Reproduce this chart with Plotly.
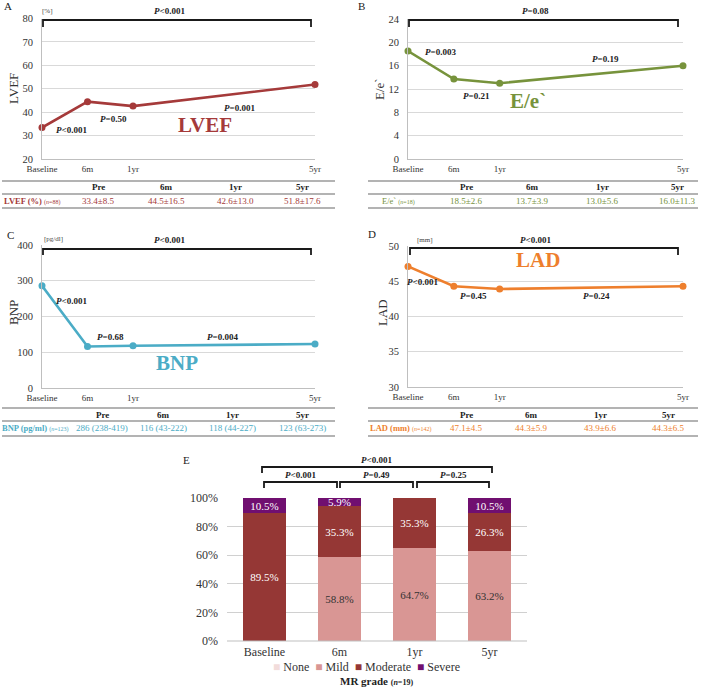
import plotly.graph_objects as go

W, H = 709, 700
SERIF = "Liberation Serif, Times New Roman, serif"

# ---------------- data ----------------
visits = ["Baseline", "6m", "1yr", "5yr"]
axis_cats = ["Baseline", "6m", "1yr", " ", "  ", "   ", "5yr"]

lvef = [33.4, 44.5, 42.6, 51.8]
ee = [18.5, 13.7, 13.0, 16.0]
bnp = [286, 116, 118, 123]
lad = [47.1, 44.3, 43.9, 44.3]

table_cols = ["Pre", "6m", "1yr", "5yr"]
lvef_tab = ["33.4±8.5", "44.5±16.5", "42.6±13.0", "51.8±17.6"]
ee_tab = ["18.5±2.6", "13.7±3.9", "13.0±5.6", "16.0±11.3"]
bnp_tab = ["286 (238-419)", "116 (43-222)", "118 (44-227)", "123 (63-273)"]
lad_tab = ["47.1±4.5", "44.3±5.9", "43.9±6.6", "44.3±6.5"]

mr_visits = ["Baseline", "6m", "1yr", "5yr"]
mr_grades = ["None", "Mild", "Moderate", "Severe"]
mr_none = [0, 0, 0, 0]
mr_mild = [0, 58.8, 64.7, 63.2]
mr_moderate = [89.5, 35.3, 35.3, 26.3]
mr_severe = [10.5, 5.9, 0, 10.5]


def px(x):
    return x / W


def py(y):
    return 1 - y / H


fig = go.Figure()
shapes = []
annos = []


def txt(x, y, text, size=9, color="#222", xanchor="center", yanchor="middle", bold=False, angle=0):
    if bold:
        text = "<b>" + text + "</b>"
    annos.append(dict(x=px(x), y=py(y), xref="paper", yref="paper", text=text,
                      showarrow=False, xanchor=xanchor, yanchor=yanchor, textangle=angle,
                      font=dict(family=SERIF, size=size, color=color)))


def bracket(x1, x2, ytop, ybot, color="#1a1a1a", width=1.8):
    shapes.append(dict(type="path", xref="paper", yref="paper",
                       path=f"M {px(x1)},{py(ybot)} L {px(x1)},{py(ytop)} L {px(x2)},{py(ytop)} L {px(x2)},{py(ybot)}",
                       line=dict(color=color, width=width)))


def hline(x1, x2, y, color="#9a9a9a", width=1.5):
    shapes.append(dict(type="line", xref="paper", yref="paper", x0=px(x1), x1=px(x2),
                       y0=py(y), y1=py(y), line=dict(color=color, width=width)))


panels = [
    dict(idx=1, vals=lvef, color="#A53A3A", xd=(42, 315), yd=(159, 18.5), yr=(20, 80), dt=10,
         letter=("A", 8, 6), unit=("[%]", 40, 11), ytitle=("LVEF", 14, 89),
         ptop=("<i>P</i>&lt;0.001", 169, 11), br=(43, 311, 20, 27),
         pl=[("<i>P</i>&lt;0.001", 71, 130), ("<i>P</i>=0.50", 113, 119), ("<i>P</i>=0.001", 240, 108)],
         big=("LVEF", 205, 125)),
    dict(idx=2, vals=ee, color="#77933C", xd=(408, 683), yd=(159, 19), yr=(0, 24), dt=4,
         letter=("B", 361, 6), unit=None, ytitle=("E/e`", 380, 89),
         ptop=("<i>P</i>=0.08", 535, 11), br=(409, 678, 20, 27),
         pl=[("<i>P</i>=0.003", 440, 52), ("<i>P</i>=0.21", 477, 96), ("<i>P</i>=0.19", 605, 59)],
         big=("E/e`", 528, 101)),
    dict(idx=3, vals=bnp, color="#4BACC6", xd=(42, 315), yd=(388, 245), yr=(0, 400), dt=100,
         letter=("C", 10, 235), unit=("[pg/dl]", 42, 239), ytitle=("BNP", 14, 313),
         ptop=("<i>P</i>&lt;0.001", 169, 240), br=(43, 311, 249, 255),
         pl=[("<i>P</i>&lt;0.001", 71, 301), ("<i>P</i>=0.68", 110, 337), ("<i>P</i>=0.004", 222, 337)],
         big=("BNP", 177, 363)),
    dict(idx=4, vals=lad, color="#EE7F2D", xd=(408, 683), yd=(387, 246), yr=(30, 50), dt=5,
         letter=("D", 372, 234), unit=("[mm]", 415, 240), ytitle=("LAD", 383, 313),
         ptop=("<i>P</i>&lt;0.001", 535, 240), br=(410, 678, 248, 255),
         pl=[("<i>P</i>&lt;0.001", 422, 282), ("<i>P</i>=0.45", 473, 296), ("<i>P</i>=0.24", 596, 296)],
         big=("LAD", 538, 260)),
]

layout_axes = {}
for p in panels:
    i = p["idx"]
    xa = "x" if i == 1 else f"x{i}"
    ya = "y" if i == 1 else f"y{i}"
    fig.add_trace(go.Scatter(x=visits, y=p["vals"], mode="lines+markers", xaxis=xa, yaxis=ya,
                             line=dict(color=p["color"], width=2.6),
                             marker=dict(color=p["color"], size=7), showlegend=False,
                             cliponaxis=False))
    xk = "xaxis" if i == 1 else f"xaxis{i}"
    yk = "yaxis" if i == 1 else f"yaxis{i}"
    layout_axes[xk] = dict(domain=[px(p["xd"][0]), px(p["xd"][1])], anchor=ya, automargin=False,
                           type="category", categoryorder="array", categoryarray=axis_cats,
                           range=[0, 6], showgrid=False, zeroline=False,
                           showline=True, linecolor="#bfbfbf", linewidth=1,
                           tickmode="array", tickvals=visits, ticktext=visits,
                           tickfont=dict(family=SERIF, size=9, color="#333"), ticks="",
                           ticklabelstandoff=1)
    layout_axes[yk] = dict(domain=[py(p["yd"][0]), py(p["yd"][1])], anchor=xa, automargin=False,
                           range=list(p["yr"]), dtick=p["dt"], tick0=p["yr"][0],
                           showgrid=True, gridcolor="#d9d9d9", gridwidth=1, zeroline=False,
                           showline=True, linecolor="#bfbfbf", linewidth=1,
                           tickfont=dict(family=SERIF, size=10.5, color="#333"), ticks="",
                           ticklabelstandoff=6)
    L, lx, ly = p["letter"]
    txt(lx, ly, L, size=11, color="#222")
    if p["unit"]:
        u, ux, uy = p["unit"]
        txt(ux, uy, u, size=7, color="#444", xanchor="left")
    t, tx, ty = p["ytitle"]
    txt(tx, ty, t, size=13, color="#333", angle=-90)
    t, tx, ty = p["ptop"]
    txt(tx, ty, t, size=9, bold=True)
    x1, x2, y1, y2 = p["br"]
    bracket(x1, x2, y1, y2)
    for t, tx, ty in p["pl"]:
        txt(tx, ty, t, size=9, bold=True)
    t, tx, ty = p["big"]
    txt(tx, ty, t, size=21, color=p["color"], bold=True)

# ---------------- tables ----------------
tables = [
    dict(x1=2, x2=335, lines=(181, 194, 208), color="#A53A3A",
         label="<b>LVEF (%)</b> <span style='font-size:6px'>(<i>n</i>=88)</span>", lx=32,
         cols=[98, 166, 235, 302], vals=lvef_tab),
    dict(x1=368, x2=698, lines=(181, 194, 208), color="#77933C",
         label="E/e` <span style='font-size:6px'>(<i>n</i>=18)</span>", lx=398,
         cols=[466, 532, 602, 677], vals=ee_tab),
    dict(x1=2, x2=335, lines=(408, 421, 436), color="#4BACC6",
         label="<b>BNP (pg/ml)</b> <span style='font-size:6px'>(<i>n</i>=123)</span>", lx=35,
         cols=[102, 163, 232, 302], vals=bnp_tab),
    dict(x1=368, x2=698, lines=(408, 421, 436), color="#EE7F2D",
         label="<b>LAD (mm)</b> <span style='font-size:6px'>(<i>n</i>=142)</span>", lx=400,
         cols=[466, 531, 600, 668], vals=lad_tab),
]
for t in tables:
    l1, l2, l3 = t["lines"]
    for yy in t["lines"]:
        hline(t["x1"], t["x2"], yy)
    hy = (l1 + l2) / 2
    ry = (l2 + l3) / 2
    for c, name, v in zip(t["cols"], table_cols, t["vals"]):
        txt(c, hy, name, size=9, color="#222", bold=True)
        txt(c, ry, v, size=9, color=t["color"])
    txt(t["lx"], ry, t["label"], size=8.5, color=t["color"])

# ---------------- panel E ----------------
mr_colors = ["#F2DCDB", "#D99694", "#953735", "#700F70"]
mr_text_colors = ["#333", "#333", "#ffffff", "#ffffff"]
for name, vals, col, tc in zip(mr_grades, [mr_none, mr_mild, mr_moderate, mr_severe], mr_colors, mr_text_colors):
    fig.add_trace(go.Bar(x=mr_visits, y=vals, name=name, marker=dict(color=col, line=dict(width=0)),
                         text=[f"{v}%" if v > 0 else "" for v in vals], textposition="inside",
                         insidetextanchor="middle", constraintext="none", textangle=0,
                         textfont=dict(family=SERIF, size=11, color=tc),
                         xaxis="x5", yaxis="y5", showlegend=False))

layout_axes["xaxis5"] = dict(domain=[px(227), px(527)], anchor="y5", showgrid=False, automargin=False,
                             showline=False, ticks="", ticklabelstandoff=2,
                             tickfont=dict(family=SERIF, size=12, color="#333"))
layout_axes["yaxis5"] = dict(domain=[py(641), py(498)], anchor="x5", range=[0, 100], dtick=20,
                             ticksuffix="%", showgrid=True, gridcolor="#d0d0d0", zeroline=False,
                             showline=False, ticks="", ticklabelstandoff=8, automargin=False,
                             tickfont=dict(family=SERIF, size=12, color="#333"))
shapes.append(dict(type="line", xref="paper", yref="paper", x0=px(227), x1=px(527),
                   y0=py(641), y1=py(641), line=dict(color="#bfbfbf", width=1)))

txt(187, 460, "E", size=11, color="#222")
txt(377, 460, "<i>P</i>&lt;0.001", size=9, bold=True)
bracket(262, 492, 467, 473)
for t, xa, xb in [("<i>P</i>&lt;0.001", 264, 337), ("<i>P</i>=0.49", 340, 413), ("<i>P</i>=0.25", 417, 489)]:
    txt((xa + xb) / 2, 475, t, size=9, bold=True)
    bracket(xa, xb, 482, 488)

legend_txt = "  ".join(f"<span style='color:{c}'>■</span> {n}" for n, c in zip(mr_grades, mr_colors))
txt(366, 667, legend_txt, size=12, color="#333")
txt(377, 681, "<b>MR grade</b> <b><span style='font-size:8px'>(<i>n</i>=19)</span></b>", size=11, color="#222")

fig.update_layout(template="none", width=W, height=H, margin=dict(l=0, r=0, t=0, b=0, autoexpand=False),
                  paper_bgcolor="white", plot_bgcolor="white", barmode="stack", bargap=0.43,
                  showlegend=False, shapes=shapes, annotations=annos, hovermode=False,
                  font=dict(family=SERIF), **layout_axes)

fig.write_html("out.html", config={"displayModeBar": False, "staticPlot": True},
               post_script="document.body.style.margin='0px';document.body.style.padding='0px';document.documentElement.style.overflow='hidden';")
